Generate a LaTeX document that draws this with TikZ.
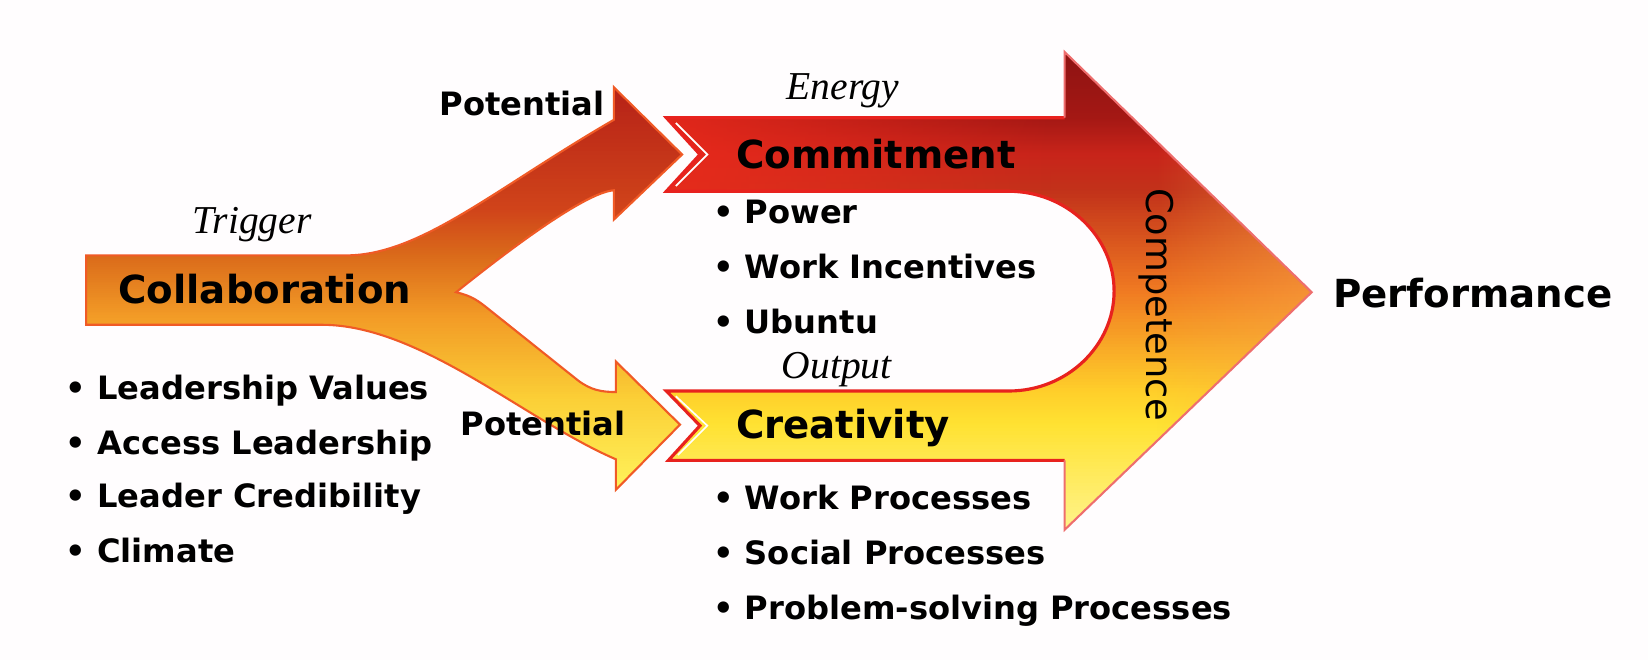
\documentclass[tikz,border=0pt]{standalone}
\usepackage{fontspec}
\setmainfont{DejaVu Sans}
\newfontfamily\cuefont{Liberation Serif}
\newfontfamily\thinsans{DejaVu Sans}
\usetikzlibrary{fadings}

\definecolor{bg}{HTML}{FFFDFE}
% fork arrow colours, top to bottom
\definecolor{fkA}{HTML}{B52017}
\definecolor{fkB}{HTML}{D0441A}
\definecolor{fkC}{HTML}{DA6A1A}
\definecolor{fkD}{HTML}{F29A26}
\definecolor{fkE}{HTML}{FBCF36}
\definecolor{fkF}{HTML}{FFF45C}
\definecolor{fkEdge}{HTML}{F05A26}
% big arrow colours, top to bottom
\definecolor{bgA}{HTML}{8C1212}
\definecolor{bgB}{HTML}{A41814}
\definecolor{bgC}{HTML}{C8241A}
\definecolor{bgD}{HTML}{C2321A}
\definecolor{bgE}{HTML}{F07A22}
\definecolor{bgF}{HTML}{FFCE2A}
\definecolor{bgG}{HTML}{FFE232}
\definecolor{bgH}{HTML}{FFF48E}
\definecolor{bandRed}{HTML}{EC2A1C}
\definecolor{tipGlow}{HTML}{FAAE4C}
\definecolor{rim}{HTML}{E8221E}
\definecolor{rimPink}{HTML}{EE6E6E}

\tikzfading[name=fadeout right, left color=transparent!0, right color=transparent!100]
\tikzfading[name=fadein right, left color=transparent!100, right color=transparent!0]

% vertical colour ramp built from thin horizontal strips:
% #1 left x, #2 right x, #3 upper y, #4 lower y, #5 colour at #3, #6 colour at #4
\newcommand\rampstrips[6]{%
  \foreach \sk in {0,...,31}{%
    \pgfmathsetmacro\ya{#3+(#4-#3)*\sk/32}%
    \pgfmathsetmacro\yb{#3+(#4-#3)*(\sk+1)/32+0.7}%
    \pgfmathsetmacro\pc{100-100*(\sk+0.5)/32}%
    \fill[#5!\pc!#6] (#1,\ya) rectangle (#2,\yb);
  }}

\tikzset{
  big/.style={font=\bfseries\fontsize{18.4}{22}\selectfont, inner sep=0pt},
  item/.style={font=\bfseries\fontsize{15.3}{18}\selectfont, anchor=base west, inner sep=0pt},
  cue/.style={font=\cuefont\itshape\fontsize{18.8}{22}\selectfont, inner sep=0pt, anchor=base},
}

\begin{document}
\begin{tikzpicture}[x=0.5pt,y=-0.5pt]
\useasboundingbox (0,0) rectangle (1568,628);
\fill[bg] (0,0) rectangle (1568,628);

% ---- the forked arrow: Collaboration splitting into two Potential arrows
\path[draw=fkEdge, line width=1pt, line join=miter,
  path picture={
    \rampstrips{0}{700}{80}{200}{fkA}{fkB}
    \rampstrips{0}{700}{200}{243}{fkB}{fkC}
    \rampstrips{0}{700}{243}{300}{fkC}{fkD}
    \rampstrips{0}{700}{300}{380}{fkD}{fkE}
    \rampstrips{0}{700}{380}{470}{fkE}{fkF}
  }]
  (82,243) -- (329,243)
  .. controls (400,243) and (470,180) .. (584,114)
  -- (584,83) -- (649,147) -- (584,209) -- (584,181)
  .. controls (560,183) and (500,225) .. (434,278)
  .. controls (446,281) and (452,284) .. (461,291)
  -- (550,362) .. controls (562,371) and (572,373) .. (586,373)
  -- (586,344) -- (647,404) -- (586,466) -- (586,437)
  .. controls (500,400) and (400,309) .. (306,309)
  -- (82,309) -- cycle;

% ---- the large arrow: Commitment and Creativity joining into Performance
\path[path picture={
    \rampstrips{600}{1260}{45}{112}{bgA}{bgB}
    \rampstrips{600}{1260}{112}{147}{bgB}{bgC}
    \rampstrips{600}{1260}{147}{182}{bgC}{bgD}
    \rampstrips{600}{1260}{182}{277}{bgD}{bgE}
    \rampstrips{600}{1260}{277}{372}{bgE}{bgF}
    \rampstrips{600}{1260}{372}{404}{bgF}{bgG}
    \rampstrips{600}{1260}{404}{508}{bgG}{bgH}
    \fill[bandRed, path fading=fadeout right, opacity=0.85] (634,112) rectangle (1000,182);
    \fill[tipGlow, path fading=fadein right, opacity=0.45] (1100,125) rectangle (1252,430);
  }]
  (634,112) -- (1013,112) -- (1013,49.5) -- (1248,278) -- (1013,504)
  -- (1013,438) -- (636,438) -- (666,405) -- (634,372) -- (960,372)
  .. controls (1015,372) and (1060,329) .. (1060,277)
  .. controls (1060,225) and (1015,182) .. (960,182)
  -- (634,182) -- (666,147) -- cycle;

% rims of the large arrow
\draw[rim, line width=1.5pt, line join=miter]
  (1013,112) -- (634,112) -- (666,147) -- (634,182) -- (960,182)
  .. controls (1015,182) and (1060,225) .. (1060,277)
  .. controls (1060,329) and (1015,372) .. (960,372)
  -- (634,372) -- (666,405) -- (636,438) -- (1013,438);
\draw[rimPink, line width=1pt, line join=miter]
  (1013,112) -- (1013,49.5) -- (1248,278) -- (1013,504) -- (1013,438);
% white inner lines along the notched ends
\draw[white, line width=0.8pt] (643,117) -- (673,147) -- (643,177);
\draw[white, line width=0.8pt] (643,377) -- (673,405) -- (645,433);

% ---- labels on the arrows
\node[big, anchor=base] (collab) at (252,288.5) {Collaboration};
\node[big, anchor=base west] (commit) at (700,160) {Commitment};
\node[big, anchor=base west] (creat) at (700,417) {Creativity};
\node[big, anchor=base west] (perf) at (1268,293) {Performance};
\node[item] (potA) at (418,109.5) {Potential};
\node[item] (potB) at (438,414) {Potential};
\node[cue] (trig) at (240,222) {Trigger};
\node[cue] (energy) at (802,95) {Energy};
\node[cue] (output) at (796,360) {Output};
\node[font=\thinsans\fontsize{17.5}{20}\selectfont, inner sep=0pt, rotate=-90]
  (comp) at (1100,290) {Competence};

% ---- bullet lists
\node[item] (l1) at (62,380) {• Leadership Values};
\node[item] (l2) at (62,432) {• Access Leadership};
\node[item] (l3) at (62,483) {• Leader Credibility};
\node[item] (l4) at (62,535) {• Climate};

\node[item] (c1) at (678,212.5) {• Power};
\node[item] (c2) at (678,265) {• Work Incentives};
\node[item] (c3) at (678,317) {• Ubuntu};

\node[item] (r1) at (678,485) {• Work Processes};
\node[item] (r2) at (678,537) {• Social Processes};
\node[item] (r3) at (678,589) {• Problem-solving Processes};
\end{tikzpicture}
\end{document}
